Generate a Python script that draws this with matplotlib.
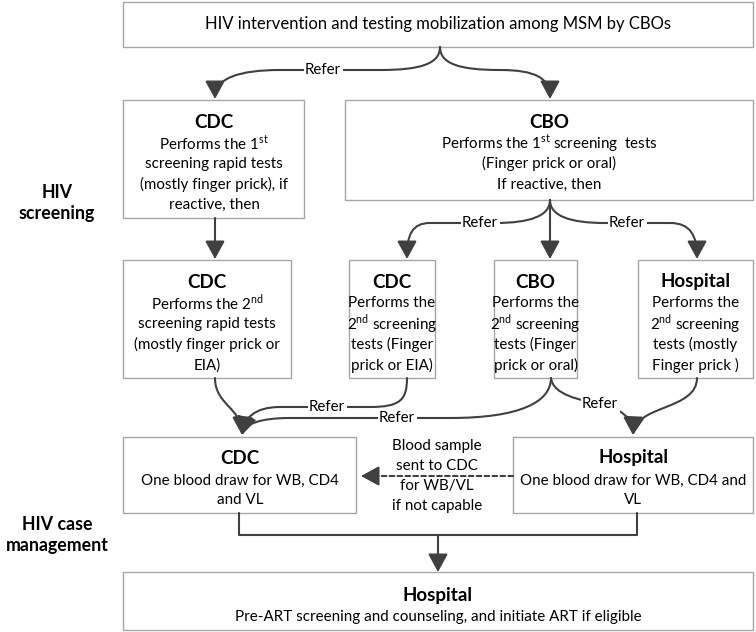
import matplotlib.pyplot as plt
from matplotlib.patches import Rectangle, FancyArrowPatch
from matplotlib.path import Path

plt.rcParams['font.family'] = ['Lato', 'DejaVu Sans']
plt.rcParams['mathtext.fontset'] = 'custom'
plt.rcParams['mathtext.rm'] = 'Lato'

# box texts
top_text = "HIV intervention and testing mobilization among MSM by CBOs"
row1_titles = ["CDC", "CBO"]
row1_lines = [
    ["Performs the 1$^{\\mathrm{st}}$", "screening rapid tests", "(mostly finger prick), if", "reactive, then"],
    ["Performs the 1$^{\\mathrm{st}}$ screening  tests", "(Finger prick or oral)", "If reactive, then"],
]
row2_titles = ["CDC", "CDC", "CBO", "Hospital"]
row2_lines = [
    ["Performs the 2$^{\\mathrm{nd}}$", "screening rapid tests", "(mostly finger prick or", "EIA)"],
    ["Performs the", "2$^{\\mathrm{nd}}$ screening", "tests (Finger", "prick or EIA)"],
    ["Performs the", "2$^{\\mathrm{nd}}$ screening", "tests (Finger", "prick or oral)"],
    ["Performs the", "2$^{\\mathrm{nd}}$ screening", "tests (mostly", "Finger prick )"],
]
row3_titles = ["CDC", "Hospital"]
row3_lines = [
    ["One blood draw for WB, CD4", "and VL"],
    ["One blood draw for WB, CD4 and", "VL"],
]
final_title = "Hospital"
final_lines = ["Pre-ART screening and counseling, and initiate ART if eligible"]
sample_note = ["Blood sample", "sent to CDC", "for WB/VL", "if not capable"]
stage_labels = [["HIV", "screening"], ["HIV case", "management"]]
refer = "Refer"

fig = plt.figure(figsize=(7.56, 6.32), dpi=100)
ax = fig.add_axes([0, 0, 1, 1])
ax.set_xlim(0, 756)
ax.set_ylim(632, 0)
ax.axis('off')

edge = '#a6a6a6'
dark = '#404040'
body = 10.9
head = 13.5
arrow_style = '-|>,head_length=0.55,head_width=0.3'


def box(x0, x1, y0, y1):
    ax.add_patch(Rectangle((x0, y0), x1 - x0, y1 - y0, fill=False, ec=edge, lw=1))


def block(cx, y_title, title, lines, y_first, step):
    if title:
        ax.text(cx, y_title, title, ha='center', va='center', fontsize=head, fontweight='bold', color='black')
    for i, ln in enumerate(lines):
        ax.text(cx, y_first + i * step, ln, ha='center', va='center', fontsize=body, color='black')


def connector(verts, kind, arrow=True, ls='-'):
    codes = [Path.MOVETO] + [kind] * (len(verts) - 1)
    p = Path(verts, codes)
    style = arrow_style if arrow else '-'
    ax.add_patch(FancyArrowPatch(path=p, arrowstyle=style, mutation_scale=20,
                                 color=dark, lw=1.5, linestyle=ls, shrinkA=0, shrinkB=0))


def curve(verts, arrow=True):
    connector(verts, Path.CURVE4, arrow)


def line(verts, arrow=True, ls='-'):
    connector(verts, Path.LINETO, arrow, ls)


def refer_label(x, y):
    ax.text(x, y, refer, ha='center', va='center', fontsize=10.8, color='black', zorder=5,
            bbox=dict(boxstyle='square,pad=0.1', fc='white', ec='none'))


# top box
box(123, 753, 2, 47)
ax.text(438, 24, top_text, ha='center', va='center', fontsize=12)

# row 1
box(123, 304, 100, 218)
block(214, 122, row1_titles[0], row1_lines[0], 143, 20.7)
box(345, 753, 100, 200)
block(549, 122, row1_titles[1], row1_lines[1], 143, 20.7)

# row 2
row2_x = [(123, 291), (349, 435), (494, 577), (638, 753)]
for (x0, x1), t, ls in zip(row2_x, row2_titles, row2_lines):
    box(x0, x1, 260, 378)
    block((x0 + x1) / 2, 282, t, ls, 303, 20.7)

# row 3
box(123, 356, 437, 513)
block(240, 458, row3_titles[0], row3_lines[0], 481, 19.5)
box(513, 753, 437, 513)
block(633, 457, row3_titles[1], row3_lines[1], 481, 19.5)

# final box
box(123, 753, 572, 630)
block(438, 595, final_title, final_lines, 617, 20)

# stage labels
for (l1, l2), y in zip(stage_labels, [193, 524]):
    ax.text(57, y, l1, ha='center', va='center', fontsize=12.8, fontweight='bold')
    ax.text(57, y + 21, l2, ha='center', va='center', fontsize=12.8, fontweight='bold')

# top fan
curve([(440, 47), (440, 64), (420, 70), (380, 70), (340, 70), (300, 70), (280, 70),
       (240, 70), (215, 78), (215, 99)])
curve([(440, 47), (440, 64), (460, 70), (500, 70), (535, 70), (550, 78), (550, 99)])
refer_label(323, 70)

# row1 -> row2
line([(215, 218), (215, 259)])
line([(550, 200), (550, 259)])
curve([(550, 200), (550, 216), (530, 223), (495, 223), (470, 223), (450, 223), (430, 223),
       (412, 223), (407, 235), (407, 259)])
curve([(550, 200), (550, 216), (570, 223), (605, 223), (630, 223), (650, 223), (670, 223),
       (690, 223), (697, 235), (697, 259)])
refer_label(480, 223)
refer_label(627, 223)

# row2 -> row3
curve([(215, 378), (215, 405), (242, 408), (242, 435)])
curve([(407, 378), (407, 400), (400, 407), (370, 407), (330, 407), (300, 407), (280, 407),
       (255, 407), (244, 418), (242, 435)])
curve([(551, 378), (551, 402), (520, 418), (450, 418), (380, 418), (330, 418), (290, 418),
       (260, 418), (245, 424), (242, 435)])
refer_label(327, 407)
refer_label(397, 418)
curve([(551, 378), (553, 395), (580, 400), (600, 404), (620, 408), (633, 418), (633, 435)])
refer_label(600, 404)
curve([(697, 378), (697, 410), (636, 405), (633, 435)])

# dashed sample transfer, solid head
line([(513, 476), (372, 476)], arrow=False, ls=(0, (2.2, 1.6)))
line([(374, 476), (361, 476)])
for i, ln in enumerate(sample_note):
    ax.text(437, 446 + i * 20, ln, ha='center', va='center', fontsize=body)

# row3 -> final
line([(239, 513), (239, 535), (637, 535), (637, 513)], arrow=False)
line([(438, 535), (438, 572)])

fig.savefig('out.png', dpi=100)
